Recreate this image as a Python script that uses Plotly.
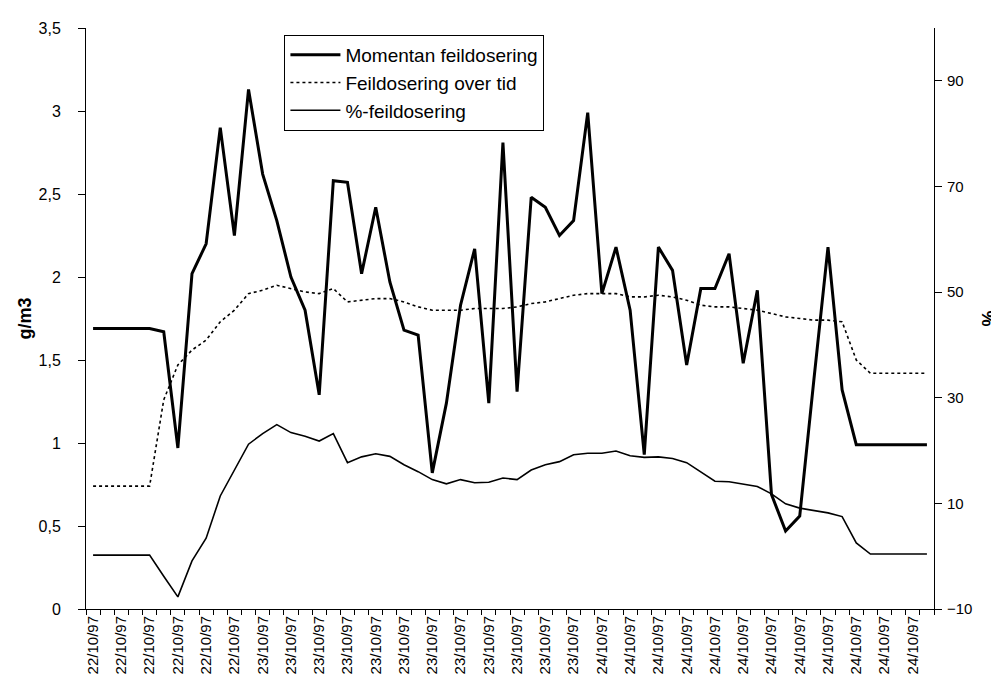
import plotly.graph_objects as go

# one label per second point, 60 points in all
date_labels = ["22/10/97"] * 6 + ["23/10/97"] * 12 + ["24/10/97"] * 12

momentan = [
    1.69, 1.69, 1.69, 1.69, 1.69, 1.67, 0.97, 2.02, 2.20, 2.90,
    2.25, 3.13, 2.62, 2.34, 2.00, 1.80, 1.29, 2.58, 2.57, 2.02,
    2.42, 1.97, 1.68, 1.65, 0.82, 1.24, 1.83, 2.17, 1.24, 2.81,
    1.31, 2.48, 2.42, 2.25, 2.34, 2.99, 1.90, 2.18, 1.80, 0.93,
    2.18, 2.04, 1.47, 1.93, 1.93, 2.14, 1.48, 1.92, 0.69, 0.47,
    0.56, 1.38, 2.18, 1.32, 0.99, 0.99, 0.99, 0.99, 0.99, 0.99,
]
over_tid = [
    0.74, 0.74, 0.74, 0.74, 0.74, 1.26, 1.47, 1.56, 1.62, 1.73,
    1.80, 1.90, 1.92, 1.95, 1.93, 1.91, 1.90, 1.93, 1.85, 1.86,
    1.87, 1.87, 1.85, 1.82, 1.80, 1.80, 1.80, 1.81, 1.81, 1.81,
    1.82, 1.84, 1.85, 1.87, 1.89, 1.90, 1.90, 1.90, 1.88, 1.88,
    1.89, 1.88, 1.86, 1.83, 1.82, 1.82, 1.81, 1.80, 1.78, 1.76,
    1.75, 1.74, 1.74, 1.73, 1.50, 1.42, 1.42, 1.42, 1.42, 1.42,
]
prosent = [
    0.2, 0.2, 0.2, 0.2, 0.2, -3.8, -7.7, -0.9, 3.4, 11.4,
    16.3, 21.2, 23.2, 24.9, 23.4, 22.7, 21.8, 23.2, 17.7, 18.8,
    19.4, 18.9, 17.3, 16.0, 14.5, 13.7, 14.5, 13.9, 14.0, 14.8,
    14.5, 16.3, 17.3, 17.9, 19.2, 19.5, 19.5, 19.9, 19.0, 18.7,
    18.8, 18.5, 17.7, 15.9, 14.2, 14.1, 13.6, 13.2, 11.8, 9.9,
    9.1, 8.6, 8.2, 7.5, 2.5, 0.4, 0.4, 0.4, 0.4, 0.4,
]

xs = list(range(len(momentan)))
x_range = [-0.5, len(xs) - 0.5]

fig = go.Figure()
fig.add_trace(go.Scatter(x=xs, y=momentan, mode="lines", name="Momentan feildosering",
                         line=dict(color="black", width=3)))
fig.add_trace(go.Scatter(x=xs, y=over_tid, mode="lines", name="Feildosering over tid",
                         line=dict(color="black", width=1.6, dash="dot")))
fig.add_trace(go.Scatter(x=xs, y=prosent, mode="lines", name="%-feildosering",
                         yaxis="y2", line=dict(color="black", width=1.6)))

fig.update_layout(
    width=999,
    height=678,
    margin=dict(l=78, r=66, t=20, b=73),
    plot_bgcolor="white",
    paper_bgcolor="white",
    separators=", ",
    font=dict(family="Arial, Liberation Sans, sans-serif", size=15, color="black"),
    xaxis=dict(
        range=x_range,
        tickmode="array",
        tickvals=xs[::2],
        ticktext=date_labels,
        tickangle=-90,
        ticks="",
        showline=True, linecolor="black", linewidth=1,
        showgrid=False, zeroline=False,
        minor=dict(tickmode="linear", tick0=-0.5, dtick=1, ticks="outside",
                   ticklen=5, tickcolor="black", showgrid=False),
    ),
    # second copy of the x axis, only to get ticks crossing the line
    xaxis2=dict(
        overlaying="x", anchor="y", range=x_range,
        showticklabels=False, ticks="", showline=False,
        showgrid=False, zeroline=False,
        minor=dict(tickmode="linear", tick0=-0.5, dtick=1, ticks="inside",
                   ticklen=5, tickcolor="black", showgrid=False),
    ),
    yaxis=dict(
        range=[0, 3.5], tick0=0, dtick=0.5,
        ticks="outside", ticklen=7, tickcolor="black",
        showline=True, linecolor="black", linewidth=1,
        showgrid=False, zeroline=False, ticklabelstandoff=14,
        tickfont=dict(size=16),
        title=dict(text="<b>g/m3</b>", font=dict(size=18), standoff=2),
    ),
    yaxis2=dict(
        overlaying="y", side="right", anchor="x",
        range=[-10, 100], tick0=-10, dtick=20,
        ticks="outside", ticklen=7, tickcolor="black",
        showline=True, linecolor="black", linewidth=1,
        showgrid=False, zeroline=False, ticklabelstandoff=2,
        title=dict(text="<b>%</b>", font=dict(size=18), standoff=10),
    ),
    yaxis3=dict(
        overlaying="y", side="left", anchor="x", range=[0, 3.5], tick0=0, dtick=0.5,
        ticks="inside", ticklen=7, tickcolor="black", showticklabels=False,
        showline=False, showgrid=False, zeroline=False,
    ),
    yaxis4=dict(
        overlaying="y", side="right", anchor="x", range=[-10, 100], tick0=-10, dtick=20,
        ticks="inside", ticklen=7, tickcolor="black", showticklabels=False,
        showline=False, showgrid=False, zeroline=False,
    ),
    legend=dict(
        x=0.234, y=0.988, xanchor="left", yanchor="top",
        bgcolor="white", bordercolor="black", borderwidth=1,
        font=dict(size=19), itemwidth=50,
    ),
)

fig.write_html("out.html")
